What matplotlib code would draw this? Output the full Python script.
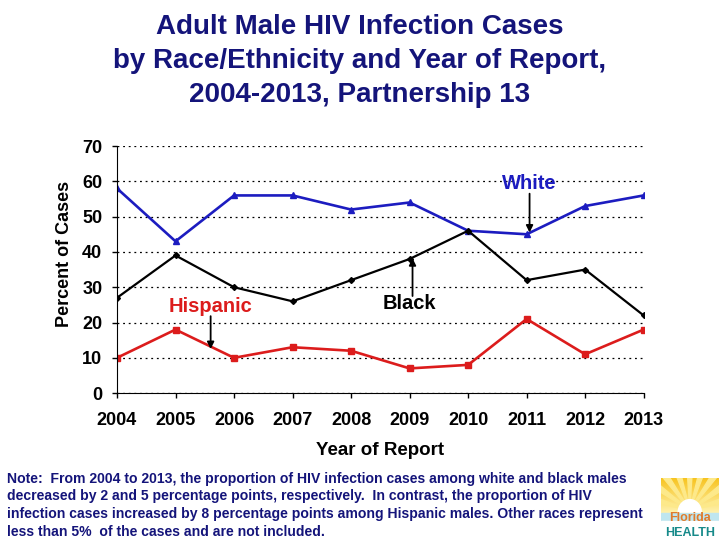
import numpy as np
import matplotlib
matplotlib.use("Agg")
import matplotlib.pyplot as plt
from matplotlib.patches import Wedge, Rectangle

plt.rcParams['font.family'] = ['Liberation Sans', 'DejaVu Sans']

# -------------------- Data --------------------
years = [2004, 2005, 2006, 2007, 2008, 2009, 2010, 2011, 2012, 2013]
white = [58, 43, 56, 56, 52, 54, 46, 45, 53, 56]
black = [27, 39, 30, 26, 32, 38, 46, 32, 35, 22]
hispanic = [10, 18, 10, 13, 12, 7, 8, 21, 11, 18]

title = ("Adult Male HIV Infection Cases\n"
         "by Race/Ethnicity and Year of Report,\n"
         "2004-2013, Partnership 13")
note = ("Note:  From 2004 to 2013, the proportion of HIV infection cases among white and black males\n"
        "decreased by 2 and 5 percentage points, respectively.  In contrast, the proportion of HIV\n"
        "infection cases increased by 8 percentage points among Hispanic males. Other races represent\n"
        "less than 5%  of the cases and are not included.")

NAVY = '#14147a'
BLUE = '#1c1cc0'
RED = '#dc1c1c'

# -------------------- Figure --------------------
fig = plt.figure(figsize=(7.2, 5.4), dpi=100)
ax = fig.add_axes([0.1625, 0.272, 0.7315, 0.4576])

ax.plot(years, white, color=BLUE, lw=1.9, marker='^', ms=5)
ax.plot(years, black, color='black', lw=1.6, marker='D', ms=3)
ax.plot(years, hispanic, color=RED, lw=1.9, marker='s', ms=4.5)

ax.set_xlim(2004, 2013)
ax.set_ylim(0, 70)
ax.set_yticks(range(0, 71, 10))
ax.set_xticks(years)
ax.yaxis.grid(True, linestyle=(0, (1.5, 3)), color='black', lw=0.9)
ax.set_axisbelow(True)
for s in ['top', 'right']:
    ax.spines[s].set_visible(False)
ax.tick_params(axis='both', direction='out', length=3.6, width=1, labelsize=13)
for lab in ax.get_xticklabels() + ax.get_yticklabels():
    lab.set_fontweight('bold')
ax.tick_params(axis='x', pad=10)
ax.tick_params(axis='y', pad=7)

ax.set_ylabel('Percent of Cases', fontsize=13, fontweight='bold')
ax.yaxis.set_label_coords(-0.084, 0.563)
ax.set_xlabel('Year of Report', fontsize=13.5, fontweight='bold')
ax.xaxis.set_label_coords(0.5, -0.197)

# -------------------- Labels with arrows --------------------
arrow = dict(arrowstyle='-|>', color='black', lw=1.3, mutation_scale=10, shrinkA=0, shrinkB=0)
ax.text(2011.05, 59.3, 'White', color=BLUE, fontsize=14.5, fontweight='bold',
        ha='center', va='center')
ax.annotate('', xy=(2011.05, 45.5), xytext=(2011.05, 56.5), arrowprops=arrow)
ax.text(2005.6, 24.5, 'Hispanic', color=RED, fontsize=14.5, fontweight='bold',
        ha='center', va='center')
ax.annotate('', xy=(2005.6, 12.5), xytext=(2005.6, 21.8), arrowprops=arrow)
ax.text(2009.0, 25.5, 'Black', color='black', fontsize=14.5, fontweight='bold',
        ha='center', va='center')
ax.annotate('', xy=(2009.05, 38.2), xytext=(2009.05, 27.5), arrowprops=arrow)

# -------------------- Title and note --------------------
fig.text(0.5, 0.974, title, ha='center', va='top', fontsize=20, fontweight='bold',
         color=NAVY, linespacing=1.4)
fig.text(0.01, 0.126, note, ha='left', va='top', fontsize=10.1, fontweight='bold',
         color=NAVY, linespacing=1.32)

# -------------------- Logo --------------------
lax = fig.add_axes([0.918, 0.0, 0.08, 0.115])
lax.set_xlim(0, 1)
lax.set_ylim(0, 1)
lax.axis('off')
grad = np.linspace(0, 1, 50).reshape(-1, 1)
sun = matplotlib.colors.LinearSegmentedColormap.from_list('sun', ['#fff3b0', '#f7c21c'])
lax.imshow(grad, extent=(0, 1, 0.42, 1), cmap=sun, aspect='auto', origin='lower', zorder=0)
for ang in np.linspace(15, 165, 9):
    lax.add_patch(Wedge((0.5, 0.48), 0.9, ang - 4, ang + 4, color='#fde98a', zorder=1))
lax.add_patch(Rectangle((0, 0.3), 1, 0.14, color='#bfe6ef', zorder=2))
lax.add_patch(Rectangle((0, 0), 1, 0.3, color='white', zorder=2))
lax.add_patch(Wedge((0.5, 0.45), 0.2, 0, 180, color='white', zorder=3))
lax.text(0.5, 0.36, 'Florida', ha='center', va='center', fontsize=9, color='#e07b2a',
         fontweight='bold', zorder=4)
lax.text(0.5, 0.12, 'HEALTH', ha='center', va='center', fontsize=9, color='#178a8a',
         fontweight='bold', zorder=4)

fig.savefig('out.png', dpi=100)
